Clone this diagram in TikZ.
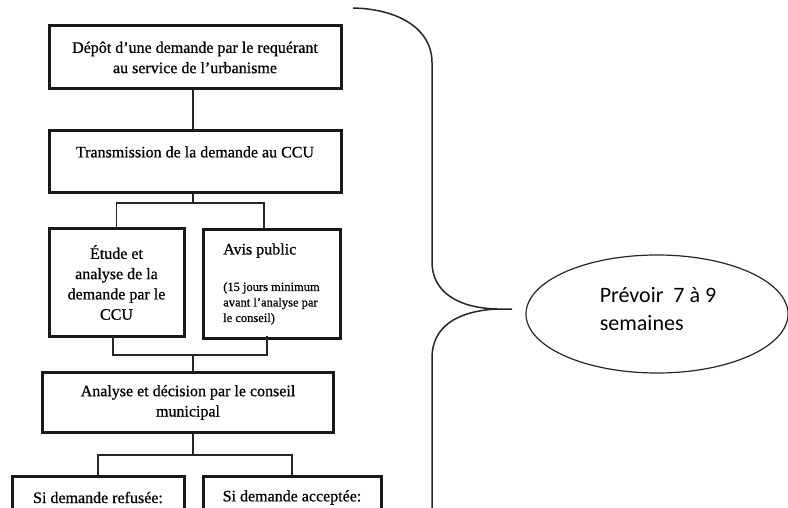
\documentclass[tikz,border=0pt]{standalone}
\usepackage{fontspec}
\setmainfont{Liberation Serif}[FakeBold=0.7]
\newfontfamily\calfont{Carlito}
\usetikzlibrary{shapes.geometric,calc}
\newcommand{\smallf}{\fontsize{12.5}{15.5}\selectfont}
\begin{document}
\begin{tikzpicture}[x=1pt,y=-1pt,
  boxn/.style={draw=black!90, line width=3pt, rectangle, inner sep=0pt, align=center,
    font=\fontsize{16}{20.3}\selectfont},
  conn/.style={line width=1.8pt, black!85},
  bracel/.style={line width=1.5pt, black!85},
  ovalnode/.style={draw=black!85, ellipse, line width=1.2pt, inner sep=0pt}]
\useasboundingbox (0,0) rectangle (788,508);
\clip (0,0) rectangle (788,508);

% boxes
\node[boxn, minimum width=292, minimum height=63] (b1) at (195,57.5)
  {Dépôt d'une demande par le requérant\\au service de l'urbanisme};
\node[boxn, minimum width=292, minimum height=62] (b2) at (195,162)
  {Transmission de la demande au CCU\\\mbox{}};
\node[boxn, minimum width=135, minimum height=108] (b3) at (116.5,282.5)
  {Étude et\\analyse de la\\demande par le\\CCU};
\node[boxn, minimum width=137, minimum height=108, align=left,
  font=\fontsize{16}{15.5}\selectfont] (b4) at (271.5,284)
  {Avis public\\[21pt]{\smallf (15 jours minimum}\\{\smallf avant l'analyse par}\\{\smallf le conseil)}};
\node[boxn, minimum width=291, minimum height=60] (b5) at (188,402.5)
  {Analyse et décision par le conseil\\municipal};
\node[boxn, minimum width=172, minimum height=42, anchor=north] (b6) at (98,475)
  {Si demande refusée:};
\node[boxn, minimum width=178, minimum height=42, anchor=north] (b7) at (292,475)
  {Si demande acceptée:};

% connector points
\coordinate (j1) at (193,203);
\coordinate (b4in) at (264,229);
\coordinate (b3out) at (113,336);
\coordinate (b4out) at (267,336);
\coordinate (j2) at (193,355);
\coordinate (j3) at (193,455);

% connectors
\draw[conn] (b1.south -| j1) -- (b2.north -| j1);
\draw[conn] (b2.south -| j1) -- (j1);
\draw[conn] (b3.north) |- (j1) -| (b4in);
\draw[conn] (b3out) |- (j2) -| (b4out);
\draw[conn] (j2) -- (b5.north -| j2);
\draw[conn] (b5.south -| j3) -- (j3);
\draw[conn] (b6.north) |- (j3) -| (b7.north);

% brace
\coordinate (brtop) at (353,8);
\coordinate (brtip) at (497,309);
\coordinate (brend) at (512,309);
\coordinate (brbot) at (432,512);
\draw[bracel] (brtop) .. controls (400,9) and (432,30) .. (432,62) -- (432,262)
  .. controls (432,292) and (458,308) .. (brtip) -- (brend);
\draw[bracel] (brtip) .. controls (458,311) and (432,326) .. (432,358) -- (brbot);

% ellipse
\node[ovalnode, minimum width=262, minimum height=118] (el) at (657,314) {};
\node[font=\calfont\fontsize{22}{28}\selectfont, align=left, inner sep=0pt] (eltx) at (658,309)
  {Prévoir\ \ 7 à 9\\semaines};
\end{tikzpicture}
\end{document}
